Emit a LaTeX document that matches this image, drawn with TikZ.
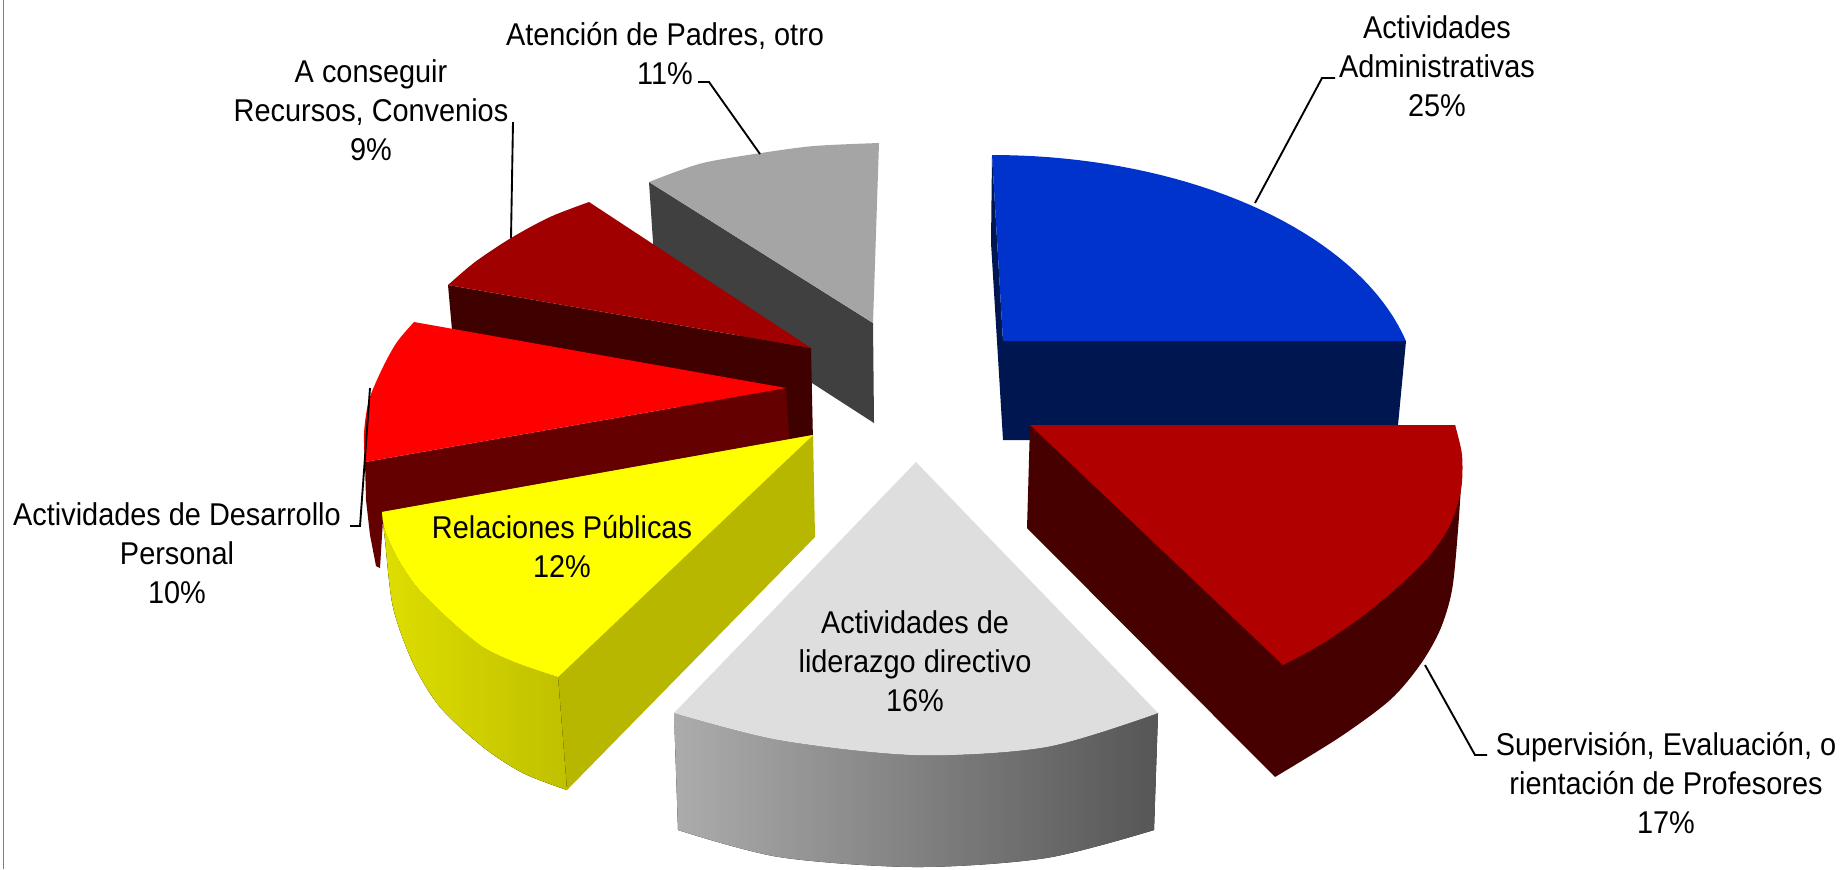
\documentclass[tikz,border=0pt]{standalone}
\usepackage{fontspec}
\setmainfont{Liberation Sans}[FakeStretch=0.917]
\usetikzlibrary{shadings}
\definecolor{blueTop}{RGB}{0,51,204}
\definecolor{blueSide}{RGB}{0,22,80}
\definecolor{supTop}{RGB}{176,0,0}
\definecolor{supSide}{RGB}{71,0,0}
\definecolor{grayTop}{RGB}{165,165,165}
\definecolor{graySide}{RGB}{64,64,64}
\definecolor{conTop}{RGB}{160,0,0}
\definecolor{conSide}{RGB}{63,0,0}
\definecolor{desTop}{RGB}{255,0,0}
\definecolor{desSide}{RGB}{100,0,0}
\definecolor{yelTop}{RGB}{255,255,0}
\definecolor{yelCut}{RGB}{183,183,0}
\definecolor{yelL}{RGB}{222,222,0}
\definecolor{yelR}{RGB}{192,192,0}
\definecolor{lidTop}{RGB}{222,222,222}
\definecolor{lidL}{RGB}{172,172,172}
\definecolor{lidR}{RGB}{86,86,86}
\definecolor{frameLine}{RGB}{170,110,110}
\tikzset{
  lbl/.style={font=\fontsize{12.6}{15.6}\selectfont, align=center, inner sep=0pt, anchor=base},
  leader/.style={draw=black, line width=0.75pt},
}
\begin{document}
\begin{tikzpicture}[x=0.4pt, y=-0.4pt]
\useasboundingbox (0,0) rectangle (1843,869);
\fill[white] (0,0) rectangle (1843,869);
\draw[frameLine, line width=0.5pt] (3.5,0) -- (3.5,869);

% --- Atencion de Padres (gray) ---
\fill[graySide] (649,182) -- (873,323) -- (874,423) -- (812,383) -- (653,280) -- (653,242) -- cycle;
\fill[grayTop] (873,323) -- (649,182) -- plot[smooth] coordinates {(649,182)(678,171)(707,162)(761,153)(814,146)(879,143)} -- cycle;

% --- A conseguir Recursos (dark red) ---
\fill[conSide] (448,285) -- (811,348) -- (813,442) -- (786,442) -- (452,330) -- cycle;
\fill[conTop] (811,348) -- (448,285) -- plot[smooth] coordinates {(448,285)(475,262)(511,238)(550,217)(589,202)} -- cycle;

% --- Desarrollo Personal (red) ---
\fill[desSide] (365,462) -- (786,388) -- (790,450) -- (383,520) -- (380,568) -- (376,566) -- (370,535) -- (366,500) -- cycle;
\fill[desTop] (786,388) -- (365,462) -- plot[smooth] coordinates {(365,462)(364,433)(369,400)(383,367)(397,342)(414,322)} -- cycle;

% --- Relaciones Publicas (yellow) ---
\fill[yelCut] plot[smooth] coordinates {(382,512)(385,540)(393,607)(413,663)(440,707)(483,747)(523,773)(567,790)} -- (815,537) -- (813,435) -- cycle;
\fill[left color=yelL, right color=yelR] plot[smooth] coordinates {(382,512)(385,540)(393,607)(413,663)(440,707)(483,747)(523,773)(567,790)} -- (558,677) -- plot[smooth] coordinates {(558,677)(517,663)(483,647)(450,620)(417,587)(397,557)(385,530)(382,512)} -- cycle;
\fill[yelTop] plot[smooth] coordinates {(382,512)(385,530)(397,557)(417,587)(450,620)(483,647)(517,663)(558,677)} -- (813,435) -- cycle;

% --- Actividades Administrativas (blue) ---
\fill[blueSide] (992,155) -- (991,243) -- (1003,440) -- (1040,440) -- (1040,425) -- (1398,425) -- (1406,341) -- (1003,341) -- cycle;
\fill[blueTop] (1003,341) -- (992,155) -- plot[domain=0:76.1, samples=40] ({992+426.5*sin(\x)}, {400-245*cos(\x)}) -- cycle;

% --- Supervision (red) ---
\fill[supSide] (1030,425) -- (1027,528) -- plot[smooth] coordinates {(1275,777)(1340,737)(1390,700)(1420,665)(1440,630)(1452,590)(1458,530)(1462,470)} -- (1455,425) -- cycle;
\fill[supTop] (1030,425) -- (1455,425) -- plot[smooth] coordinates {(1455,425)(1462,455)(1461,490)(1450,525)(1430,555)(1400,585)(1360,618)(1320,645)(1283,665)} -- cycle;

% --- Liderazgo directivo (light gray) ---
\fill[left color=lidL, right color=lidR] plot[smooth] coordinates {(674,713)(779,740)(916,755)(1046,747)(1158,713)} -- (1154,830) -- plot[smooth] coordinates {(1154,830)(1046,858)(916,867)(779,857)(678,830)} -- cycle;
\fill[lidTop] (916,462) -- (674,713) -- plot[smooth] coordinates {(674,713)(779,740)(916,755)(1046,747)(1158,713)} -- cycle;

% --- labels (anchor = baseline of last line) ---
\node[lbl] (aten) at (665,84) {Atención de Padres, otro\\11\%};
\node[lbl] (cons) at (371,160) {A conseguir\\Recursos, Convenios\\9\%};
\node[lbl] (adm) at (1437,116) {Actividades\\Administrativas\\25\%};
\node[lbl] (desa) at (177,603) {Actividades de Desarrollo\\Personal\\10\%};
\node[lbl] (rel) at (562,577) {Relaciones Públicas\\12\%};
\node[lbl] (lid) at (915,711) {Actividades de\\liderazgo directivo\\16\%};
\node[lbl] (sup) at (1666,833) {Supervisión, Evaluación, o\\rientación de Profesores\\17\%};

% --- leader lines ---
\coordinate (aten-s) at (698,82);
\coordinate (aten-p) at (760,154);
\coordinate (cons-s) at (513,122);
\coordinate (cons-p) at (511,238);
\coordinate (adm-s) at (1335,78);
\coordinate (adm-p) at (1255,203);
\coordinate (desa-s) at (350,526);
\coordinate (desa-p) at (370,388);
\coordinate (sup-s) at (1487,755);
\coordinate (sup-p) at (1425,665);
\draw[leader] (aten-s) -- ++(11,0) -- (aten-p);
\draw[leader] (cons-s) -- (cons-p);
\draw[leader] (adm-s) -- ++(-13,0) -- (adm-p);
\draw[leader] (desa-s) -- ++(10,0) -- (desa-p);
\draw[leader] (sup-s) -- ++(-12,0) -- (sup-p);
\end{tikzpicture}
\end{document}
